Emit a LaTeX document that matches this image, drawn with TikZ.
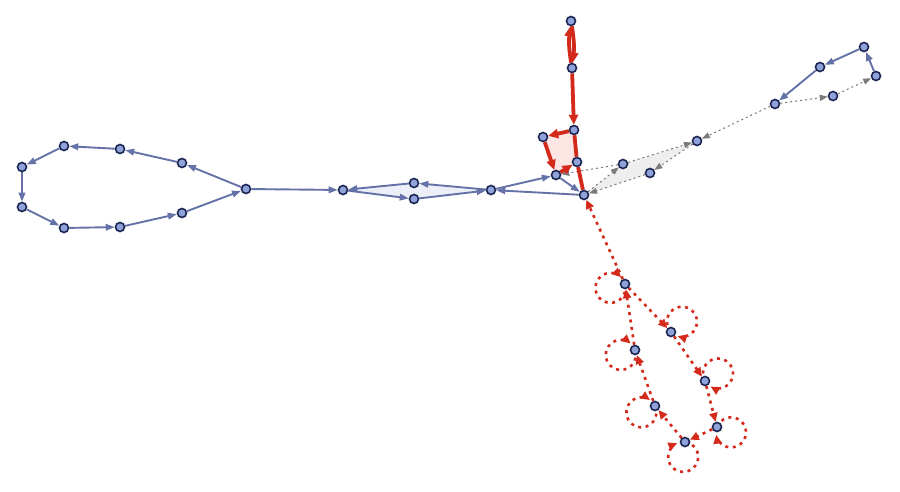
\documentclass[tikz,border=0pt]{standalone}
\usetikzlibrary{arrows.meta,backgrounds}
\definecolor{eblue}{HTML}{6472A8}
\definecolor{nfill}{HTML}{8FA2D9}
\definecolor{ndraw}{HTML}{1C2653}
\definecolor{ered}{HTML}{D42A1C}
\definecolor{egray}{HTML}{7A7A7A}
\definecolor{bfill}{HTML}{ECEEF8}
\definecolor{pfill}{HTML}{FCE5E2}
\definecolor{gfill}{HTML}{EEEEEE}
\tikzset{
 vtx/.style={circle,inner sep=0pt,minimum size=9pt,fill=nfill,draw=ndraw,line width=1.6pt},
 be/.style={draw=eblue,line width=1.9pt,-{Triangle[length=9pt,width=6.5pt]}},
 re/.style={draw=ered,line width=3.8pt,-{Triangle[length=10pt,width=9pt]}},
 reline/.style={draw=ered,line width=3.8pt},
 rd/.style={draw=ered,line width=2.6pt,dash pattern=on 3pt off 4.5pt,-{Triangle[length=9pt,width=8pt]}},
 ge/.style={draw=egray,line width=1pt,dash pattern=on 2pt off 3pt,-{Triangle[length=8pt,width=6pt]}},
}
\newcommand\selfloop[2]{\draw[rd] (#1) ++(#2:15) ++(#2+210:15) arc[start angle=#2+210, delta angle=300, radius=15];}
\begin{document}
\begin{tikzpicture}[x=1pt,y=-1pt]
\useasboundingbox (0,0) rectangle (900,492);
% nodes
\node[vtx] (A1) at (22,167) {};
\node[vtx] (A2) at (22,207) {};
\node[vtx] (A3) at (64,228) {};
\node[vtx] (A4) at (120,227) {};
\node[vtx] (A5) at (182,213) {};
\node[vtx] (H) at (246,189) {};
\node[vtx] (A6) at (182,163) {};
\node[vtx] (A7) at (120,149) {};
\node[vtx] (A8) at (64,146) {};
\node[vtx] (B1) at (343,190) {};
\node[vtx] (B2) at (414,183) {};
\node[vtx] (B3) at (414,199) {};
\node[vtx] (B4) at (491,190) {};
\node[vtx] (C) at (556,175) {};
\node[vtx] (D) at (584,195) {};
\node[vtx] (R1) at (571,21) {};
\node[vtx] (R2) at (572,68) {};
\node[vtx] (R3) at (574,130) {};
\node[vtx] (R4) at (543,137) {};
\node[vtx] (R5) at (577,162) {};
\node[vtx] (G1) at (623,164) {};
\node[vtx] (G2) at (650,173) {};
\node[vtx] (G3) at (697,141) {};
\node[vtx] (G4) at (775,104) {};
\node[vtx] (G5) at (833,96) {};
\node[vtx] (G6) at (876,76) {};
\node[vtx] (G7) at (864,47) {};
\node[vtx] (G8) at (820,67) {};
\node[vtx] (E1) at (625,284) {};
\node[vtx] (E2) at (671,332) {};
\node[vtx] (E3) at (635,350) {};
\node[vtx] (E4) at (705,381) {};
\node[vtx] (E5) at (655,406) {};
\node[vtx] (E6) at (717,427) {};
\node[vtx] (E7) at (685,442) {};
\begin{pgfonlayer}{background}
% shaded faces
\fill[bfill] (B1.center)--(B2.center)--(B4.center)--(B3.center)--cycle;
\fill[pfill] (R3.center)--(R4.center)--(C.center)--(R5.center)--cycle;
\fill[gfill] (D.center)--(G1.center)--(G3.center)--(G2.center)--cycle;
% left loop
\draw[be] (H) -- (A6);
\draw[be] (A6) -- (A7);
\draw[be] (A7) -- (A8);
\draw[be] (A8) -- (A1);
\draw[be] (A1) -- (A2);
\draw[be] (A2) -- (A3);
\draw[be] (A3) -- (A4);
\draw[be] (A4) -- (A5);
\draw[be] (A5) -- (H);
% middle
\draw[be] (H) -- (B1);
\draw[be] (B2) -- (B1);
\draw[be] (B1) -- (B3);
\draw[be] (B3) -- (B4);
\draw[be] (B4) -- (B2);
\draw[be] (B4) -- (C);
\draw[be] (C) -- (D);
\draw[be] (D) -- (B4);
% upper right blue
\draw[be] (G6) -- (G7);
\draw[be] (G7) -- (G8);
\draw[be] (G8) -- (G4);
% gray dashed
\draw[ge] (G1) -- (C);
\draw[ge] (D) -- (G1);
\draw[ge] (G1) -- (G3);
\draw[ge] (G3) -- (G2);
\draw[ge] (G2) -- (D);
\draw[ge] (G4) -- (G3);
\draw[ge] (G4) -- (G5);
\draw[ge] (G5) -- (G6);
% red thick
\draw[re] (R2) to[bend left=8] (R1);
\draw[re] (R1) to[bend left=8] (R2);
\draw[re] (R2) -- (R3);
\draw[re] (R3) -- (R4);
\draw[re] (R4) -- (C);
\draw[re] (C) -- (R5);
\draw[reline] (R3) -- (R5);
\draw[reline] (R5) -- (D);
% red dotted
\draw[rd] (E1) -- (D);
\draw[rd] (E1) -- (E2);
\draw[rd] (E2) -- (E4);
\draw[rd] (E4) -- (E6);
\draw[rd] (E6) -- (E7);
\draw[rd] (E7) -- (E5);
\draw[rd] (E5) -- (E3);
\draw[rd] (E3) -- (E1);
\selfloop{E1}{165}
\selfloop{E2}{-43}
\selfloop{E3}{161}
\selfloop{E4}{-30}
\selfloop{E5}{155}
\selfloop{E6}{21}
\selfloop{E7}{97}
\end{pgfonlayer}
\end{tikzpicture}
\end{document}
